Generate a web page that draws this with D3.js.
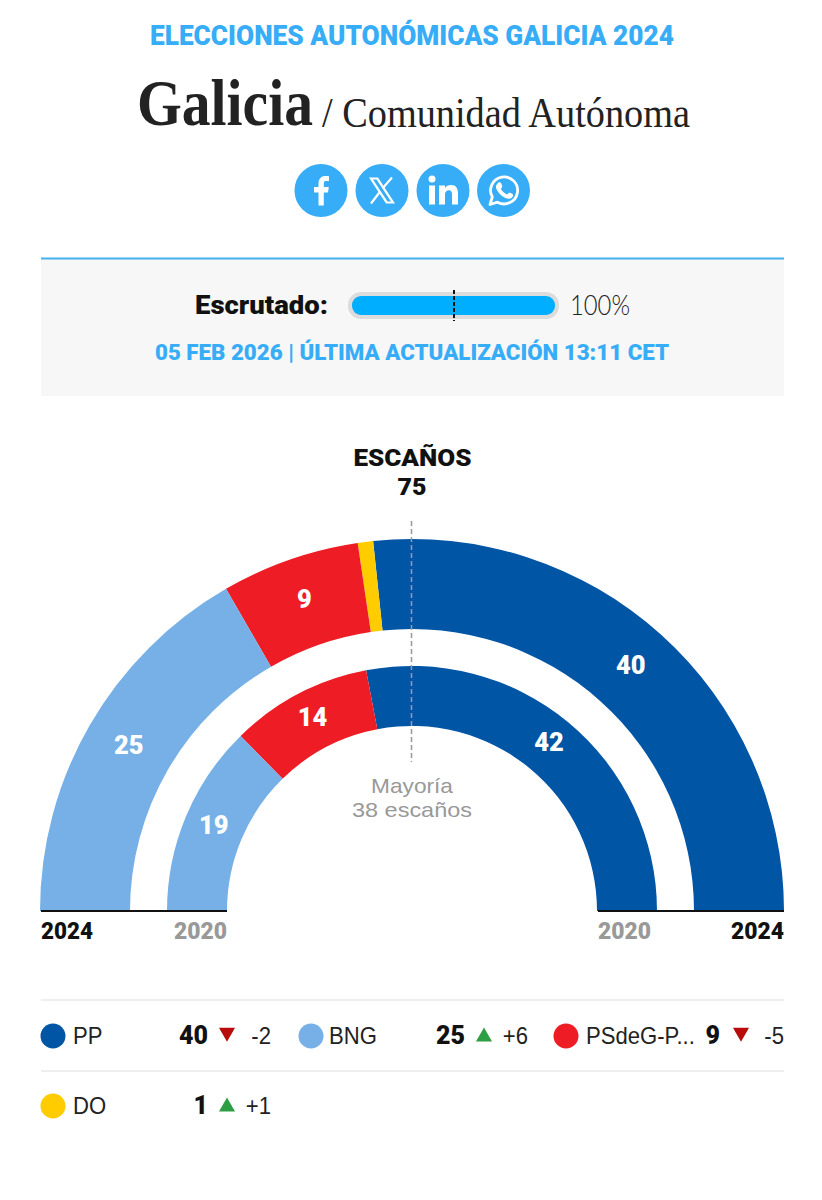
<!DOCTYPE html>
<html><head><meta charset="utf-8">
<script src="https://cdn.jsdelivr.net/npm/d3@7"></script>
<style>html,body{margin:0;padding:0;background:#fff}svg{display:block}</style>
</head><body><svg id="c" width="822" height="1200"></svg>
<script>
const parties2024 = ["PP","DO","PSdeG-P...","BNG"];
const seats2024 = [40,1,9,25];
const parties2020 = ["PP","PSdeG-P...","BNG"];
const seats2020 = [42,14,19];
const partyColors = {"PP":"#0055a5","DO":"#ffcc00","PSdeG-P...":"#ee1c25","BNG":"#76b0e6"};
const legendParties = ["PP","BNG","PSdeG-P...","DO"];
const legendSeats = [40,25,9,1];
const legendDelta = [-2,6,-5,1];
const totalSeats = 75;
const majority = 38;
const yearLabels = ["2024","2020"];
const scrutinyPct = 100;

const HEAD='Roboto, "Liberation Sans", sans-serif';
const BODY='"Liberation Sans",sans-serif';
const LIGHT='Lato,"Open Sans",sans-serif';
const SERIF='"Liberation Serif",serif';
const sky="#36adf6";
const svg=d3.select("#c");

function txt(s,x,y,o={}){
  const t=svg.append("text").attr("x",x).attr("y",y).text(s)
    .attr("font-family",o.f||HEAD).attr("font-size",o.s||20).attr("font-weight",o.w||400)
    .attr("fill",o.c||"#111").attr("text-anchor",o.a||"start");
  if(o.k){o.l=t.node().getComputedTextLength()*o.k;}
  if(o.l){t.attr("textLength",o.l).attr("lengthAdjust","spacingAndGlyphs");}
  return t;
}
// header
txt("ELECCIONES AUTONÓMICAS GALICIA 2024",412,45,{a:"middle",s:27,w:900,c:sky,l:524});
txt("Galicia",137,125,{f:SERIF,s:66,w:700,c:"#222",l:176});
txt("/ Comunidad Autónoma",322,127,{f:SERIF,s:43,w:400,c:"#222",l:368});

// social icons
const iconX=[321,382,443,503.5];
iconX.forEach(x=>svg.append("circle").attr("cx",x).attr("cy",190.5).attr("r",26.5).attr("fill",sky));
const ic=(x,d,extra)=>svg.append("path").attr("transform",`translate(${x},190.5)`).attr("d",d).attr("fill","#fff").call(s=>extra&&extra(s));
ic(iconX[0],"M-2.5,15V2H-7V-3.5H-2.5V-7C-2.5,-12,0.5,-14.5,4.5,-14.5C6,-14.5,7.5,-14.3,8,-14.2V-9.5H5C3,-9.5,2.8,-8.5,2.8,-7V-3.5H7.8L7,2H2.8V15Z");
ic(iconX[1],"M-13,-13H-4L13,13H4ZM-9,-11L5.5,11H9L-5.5,-11Z",s=>s.attr("fill-rule","evenodd"));
svg.append("path").attr("transform",`translate(${iconX[1]},190.5)`).attr("d","M10,-13L1.5,-3.2M-1.8,1L-11,13").attr("stroke","#fff").attr("stroke-width",2.2).attr("fill","none");
ic(iconX[2],"M-14,-5H-8V14H-14ZM-11,-15A3.5,3.5 0 1 1 -11,-8A3.5,3.5 0 1 1 -11,-15ZM-4,-5H2V-2.3C3.2,-4.3,5.3,-5.5,8,-5.5C13,-5.5,15,-2.3,15,3V14H9V4C9,1.5,8.2,-0.3,6,-0.3C3.5,-0.3,2,1.5,2,4V14H-4Z");
svg.append("path").attr("transform",`translate(${iconX[3]},190.5)`).attr("d","M-13.5,14L-11.2,6.5A13.5,13.5 0 1 1 -6,11.7Z").attr("fill","none").attr("stroke","#fff").attr("stroke-width",2.8).attr("stroke-linejoin","round");
ic(iconX[3],"M-6,-7C-5,-9,-3,-8.5,-2.5,-7.5L-1.2,-4.5C-1,-3.7,-2.5,-2.3,-2.6,-1.8C-1.2,1,1,3,3.6,4C4.3,3.7,5.2,2,6,2L9,3.5C9.7,4,9.8,5.3,9,6.6C7.5,8.8,4.5,8.7,1,7C-3,5,-6,1.5,-7.3,-2C-8,-4,-7.2,-5.8,-6,-7Z");

// scrutiny panel
svg.append("rect").attr("x",41).attr("y",258).attr("width",743).attr("height",138).attr("fill","#f7f7f7");
svg.append("rect").attr("x",41).attr("y",257.5).attr("width",743).attr("height",2).attr("fill","#45b0ec");
txt("Escrutado:",328,314,{a:"end",s:26,w:900,l:133});
svg.append("rect").attr("x",348).attr("y",292).attr("width",211).attr("height",27).attr("rx",13).attr("fill","#dcdcdc");
const pct=d3.scaleLinear().domain([0,100]).range([352,555]);
svg.append("rect").attr("x",pct(0)).attr("y",296).attr("width",pct(scrutinyPct)-pct(0)).attr("height",19).attr("rx",9).attr("fill","#00aeff");
svg.append("line").attr("x1",pct(50)+0.5).attr("x2",pct(50)+0.5).attr("y1",290).attr("y2",321).attr("stroke","#111").attr("stroke-width",2).attr("stroke-dasharray","4 2");
txt(scrutinyPct+"%",570,315,{f:LIGHT,s:27,w:300,l:60,c:"#222"});
txt("05 FEB 2026 | ÚLTIMA ACTUALIZACIÓN 13:11 CET",412,360,{a:"middle",s:22,w:900,c:sky,l:514});

// chart
txt("ESCAÑOS",412.5,466,{a:"middle",s:24,w:900,l:118});
txt(String(totalSeats),412,494.5,{a:"middle",s:24,w:900,l:29});
const cx=412,cy=911;
const pie=d3.pie().sort(null).startAngle(Math.PI/2).endAngle(-Math.PI/2);
const g=svg.append("g").attr("transform",`translate(${cx},${cy})`);
function ring(names,vals,r0,r1){
  const arc=d3.arc().innerRadius(r0).outerRadius(r1);
  pie(vals).forEach((d,i)=>{
    g.append("path").attr("d",arc(d)).attr("fill",partyColors[names[i]]);
    if(vals[i]>1){
      const c=arc.centroid(d);
      g.append("text").attr("x",c[0]).attr("y",c[1]+6).attr("text-anchor","middle")
       .attr("font-family",HEAD).attr("font-weight",900).attr("font-size",25.5).attr("fill","#fff").text(vals[i]);
    }
  });
}
ring(parties2024,seats2024,282,372);
ring(parties2020,seats2020,185,245);
svg.append("line").attr("x1",411.5).attr("x2",411.5).attr("y1",521).attr("y2",762).attr("stroke","#9a9a9a").attr("stroke-width",1.5).attr("stroke-dasharray","5 3");
txt("Mayoría",412,792.5,{a:"middle",f:BODY,s:21,c:"#999",l:82});
txt(majority+" escaños",412,817,{a:"middle",f:BODY,s:21,c:"#999",l:120});
[[41,227],[598,784]].forEach(p=>svg.append("line").attr("x1",p[0]).attr("x2",p[1]).attr("y1",911).attr("y2",911).attr("stroke","#111").attr("stroke-width",2));
txt(yearLabels[0],41,939,{s:23,w:900,l:52});
txt(yearLabels[1],227,939,{s:23,w:900,c:"#999",a:"end",l:53});
txt(yearLabels[1],598,939,{s:23,w:900,c:"#999",l:53});
txt(yearLabels[0],784,939,{s:23,w:900,a:"end",l:53});

// legend
[1000,1071].forEach(y=>svg.append("line").attr("x1",41).attr("x2",784).attr("y1",y).attr("y2",y).attr("stroke","#eee").attr("stroke-width",2));
const slots=[
 {c:53,t:73,n:208,tri:227,d:271,y:1036},
 {c:311,t:329,n:465,tri:484,d:528,y:1036},
 {c:566,t:586,n:720,tri:741,d:784,y:1036},
 {c:53,t:73,n:208,tri:227,d:271,y:1106}];
legendParties.forEach((p,i)=>{
  const s=slots[i];
  svg.append("circle").attr("cx",s.c).attr("cy",s.y).attr("r",12.5).attr("fill",partyColors[p]);
  txt(p,s.t,s.y+8,{s:24,f:BODY,c:"#222",k:0.92});
  txt(legendSeats[i],s.n,s.y+8,{a:"end",s:25,w:900});
  const up=legendDelta[i]>0;
  svg.append("path").attr("d",d3.symbol(d3.symbolTriangle,112)())
    .attr("transform",`translate(${s.tri},${s.y+(up?0.8:-3.5)}) rotate(${up?0:180})`)
    .attr("fill",up?"#2e9e44":"#b80c0c");
  txt((up?"+":"")+legendDelta[i],s.d,s.y+8,{a:"end",s:24,f:BODY,c:"#222",k:0.92});
});
</script></body></html>
